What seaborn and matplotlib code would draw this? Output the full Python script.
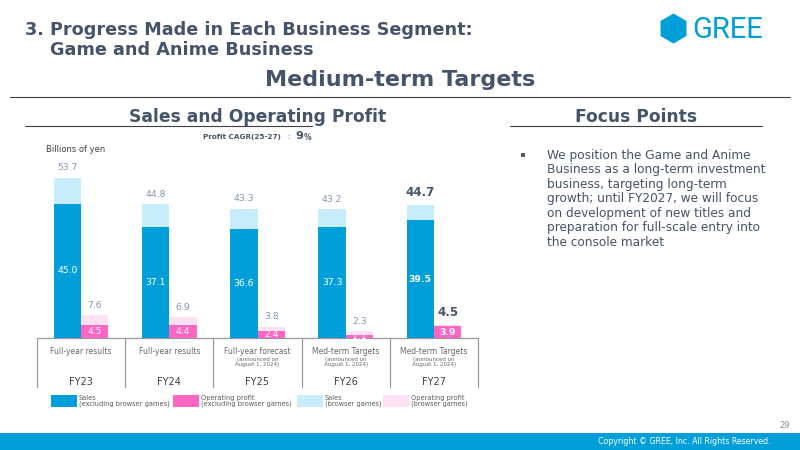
import pandas as pd
import seaborn as sns
import matplotlib.pyplot as plt
from matplotlib.patches import Rectangle, RegularPolygon

# Chart data (billions of yen)
years = ['FY23', 'FY24', 'FY25', 'FY26', 'FY27']
periods = ['Full-year results', 'Full-year results', 'Full-year forecast', 'Med-term Targets', 'Med-term Targets']
notes = ['', '', '(announced on\nAugust 1, 2024)', '(announced on\nAugust 1, 2024)', '(announced on\nAugust 1, 2024)']
sales_total = [53.7, 44.8, 43.3, 43.2, 44.7]
sales_excl = [45.0, 37.1, 36.6, 37.3, 39.5]
profit_total = [7.6, 6.9, 3.8, 2.3, 4.5]
profit_excl = [4.5, 4.4, 2.4, 1.1, 3.9]

legend_labels = ['Sales\n(excluding browser games)', 'Operating profit\n(excluding browser games)',
                 'Sales\n(browser games)', 'Operating profit\n(browser games)']
focus_lines = ['We position the Game and Anime',
               'Business as a long-term investment',
               'business, targeting long-term',
               'growth; until FY2027, we will focus',
               'on development of new titles and',
               'preparation for full-scale entry into',
               'the console market']

BLUE = '#009FDA'
LBLUE = '#C7EDFC'
PINK = '#FF66C4'
LPINK = '#FDE0F3'
SLATE = '#44546A'
GRAY = '#8496B0'

df = pd.DataFrame({
    'year': years * 2,
    'kind': ['Sales'] * 5 + ['Profit'] * 5,
    'total': sales_total + profit_total,
    'excl': sales_excl + profit_excl,
})

sns.set_theme(style='white')
plt.rcParams['font.family'] = ['DejaVu Sans']

fig = plt.figure(figsize=(8, 4.5), dpi=100)

# background axes in pixel coordinates for all the slide decoration
bg = fig.add_axes([0, 0, 1, 1], zorder=0)
bg.set_xlim(0, 800)
bg.set_ylim(450, 0)
bg.axis('off')

# chart axes: x cells 37..478 px, baseline at y=338 px
px_per_unit = 2.98
ax_h = 200
ax = fig.add_axes([37 / 800, 1 - 338 / 450, 441 / 800, ax_h / 450], zorder=2)
ax.set_facecolor('none')

sns.barplot(data=df, x='year', y='total', hue='kind', hue_order=['Sales', 'Profit'],
            palette=[LBLUE, LPINK], width=0.62, saturation=1, dodge=True,
            legend=False, ax=ax, linewidth=0)
sns.barplot(data=df, x='year', y='excl', hue='kind', hue_order=['Sales', 'Profit'],
            palette=[BLUE, PINK], width=0.62, saturation=1, dodge=True,
            legend=False, ax=ax, linewidth=0)

ax.set_ylim(0, ax_h / px_per_unit)
ax.set_xlim(-0.5, 4.5)
ax.set_xlabel('')
ax.set_ylabel('')
ax.set_xticks([])
ax.set_yticks([])
for s in ax.spines.values():
    s.set_visible(False)

# value labels
tops_s = ax.bar_label(ax.containers[0], labels=[f'{v:.1f}' for v in sales_total],
                      padding=4, fontsize=6.7, color=GRAY)
tops_p = ax.bar_label(ax.containers[1], labels=[f'{v:.1f}' for v in profit_total],
                      padding=4, fontsize=6.7, color=GRAY)
ins_s = ax.bar_label(ax.containers[2], labels=[f'{v:.1f}' for v in sales_excl],
                     label_type='center', fontsize=6.7, color='white')
ins_p = ax.bar_label(ax.containers[3], labels=[f'{v:.1f}' for v in profit_excl],
                     label_type='center', fontsize=6.7, color='white')
for t in (tops_s[-1], tops_p[-1]):
    t.set_fontweight('bold')
    t.set_fontsize(8.5)
    t.set_color(SLATE)
for t in (ins_s[-1], ins_p[-1]):
    t.set_fontweight('bold')

# category table under the bars
left, cell = 37, 441 / 5
bg.plot([left, left + 5 * cell], [338, 338], color='#999999', lw=0.9)
for i in range(6):
    x = left + i * cell
    bg.plot([x, x], [338, 387], color='#999999', lw=0.9)
for i in range(5):
    cx = left + (i + 0.5) * cell
    bg.text(cx, 351, periods[i], ha='center', va='center', fontsize=5.5, color='#666666')
    if notes[i]:
        bg.text(cx, 362, notes[i], ha='center', va='center', fontsize=4,
                color='#666666', linespacing=1.1)
    bg.text(cx, 382, years[i], ha='center', va='center', fontsize=7, color='#404040')

# legend
for x0, col, lab in zip([51, 173, 297, 383], [BLUE, PINK, LBLUE, LPINK], legend_labels):
    bg.add_patch(Rectangle((x0, 395), 26, 12, color=col, lw=0))
    bg.text(x0 + 28, 401, lab, ha='left', va='center', fontsize=4.8,
            color='#595959', linespacing=1.05)

# headers
bg.text(25, 30, '3. Progress Made in Each Business Segment:', fontsize=12.7,
        fontweight='bold', color=SLATE, va='center')
bg.text(50, 50, 'Game and Anime Business', fontsize=12.7, fontweight='bold',
        color=SLATE, va='center')
bg.text(400, 80, 'Medium-term Targets', fontsize=16, fontweight='bold',
        color=SLATE, ha='center', va='center')
bg.plot([10, 790], [97, 97], color='#404040', lw=0.8)
bg.text(258, 117, 'Sales and Operating Profit', fontsize=12.3, fontweight='bold',
        color=SLATE, ha='center', va='center')
bg.plot([25, 312], [126, 126], color='#404040', lw=0.8)
bg.text(636, 117, 'Focus Points', fontsize=12.3, fontweight='bold',
        color=SLATE, ha='center', va='center')
bg.plot([510, 762], [126, 126], color='#404040', lw=0.8)

# logo
bg.add_patch(RegularPolygon((673.5, 28.5), numVertices=6, radius=15, orientation=0,
                            color=BLUE, lw=0))
bg.text(692, 30, 'GREE', fontsize=21, color=BLUE, va='center', ha='left',
        family=['Roboto', 'DejaVu Sans'])

# CAGR note and unit
bg.text(203, 137, 'Profit CAGR(25-27)', fontsize=5.2, fontweight='bold', color=SLATE, va='center')
bg.text(287, 137, ':', fontsize=5, color=SLATE, va='center')
bg.text(295, 136, '9', fontsize=8, fontweight='bold', color=SLATE, va='center')
bg.text(304, 137, '%', fontsize=5.5, fontweight='bold', color=SLATE, va='center')
bg.text(46, 150, 'Billions of yen', fontsize=6, color='#404040', va='center')

# focus points text
bg.add_patch(Rectangle((521, 153), 4, 4, color='#595959', lw=0))
for k, line in enumerate(focus_lines):
    bg.text(547, 155 + k * 14.6, line, fontsize=8.7, color=SLATE, va='center')

# footer
bg.text(790, 425, '29', fontsize=6, color='#8C8C8C', ha='right', va='center')
bg.add_patch(Rectangle((0, 433), 800, 17, color=BLUE, lw=0))
bg.text(771, 442, 'Copyright \u00a9 GREE, Inc. All Rights Reserved.', fontsize=5.7,
        color='white', ha='right', va='center')

fig.savefig('out.png', dpi=100)
